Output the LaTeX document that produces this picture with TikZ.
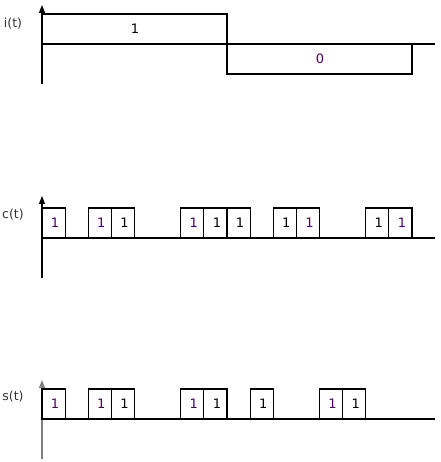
\documentclass[tikz,border=0pt]{standalone}
\usepackage{fontspec}
\setmainfont{DejaVu Sans}
\usetikzlibrary{arrows.meta}
\definecolor{bitpurple}{RGB}{75,0,105}

\begin{document}
\begin{tikzpicture}[x=1pt, y=1pt, line width=1.2pt,
  axis/.style={-{Triangle[width=6pt,length=8pt]}},
  bit/.style={font=\fontsize{13}{14}\selectfont},
  siglabel/.style={font=\fontsize{12.5}{14}\selectfont, black!80}]

\useasboundingbox (0,0) rectangle (440,462);

% i(t)
\draw[axis] (42,378) -- (42,457);
\draw (42,418) -- (435,418);
\draw (42,418) -- (42,448) -- (227,448) -- (227,388) -- (412,388) -- (412,418);
\draw (13,438) node[siglabel] (ilab) {i(t)};
\draw (135,433) node[bit] (ione) {1};
\draw (320,403) node[bit, bitpurple] (izero) {0};

% c(t)
\draw[axis] (42,184) -- (42,266);
\draw (42,224) -- (435,224);
\foreach \k/\col in {0/bitpurple, 2/bitpurple, 3/black, 6/bitpurple, 7/black,
                     8/black, 10/black, 11/bitpurple, 14/black, 15/bitpurple}
   \draw (42+23.125*\k,224) rectangle ++(23.125,30)
         node[bit, \col, pos=0.5, xshift=1.5pt] (c\k) {1};
\draw[line width=2pt] (227,224) -- (227,254);
\draw (13,247) node[siglabel] (clab) {c(t)};

% s(t)
\draw[axis, gray] (42,3) -- (42,82);
\draw (42,43) -- (435,43);
\foreach \k/\col in {0/bitpurple, 2/bitpurple, 3/black, 6/bitpurple, 7/black,
                     9/black, 12/bitpurple, 13/black}
   \draw (42+23.125*\k,43) rectangle ++(23.125,30)
         node[bit, \col, pos=0.5, xshift=1.5pt] (s\k) {1};
\draw (13,65) node[siglabel] (slab) {s(t)};

\end{tikzpicture}
\end{document}
